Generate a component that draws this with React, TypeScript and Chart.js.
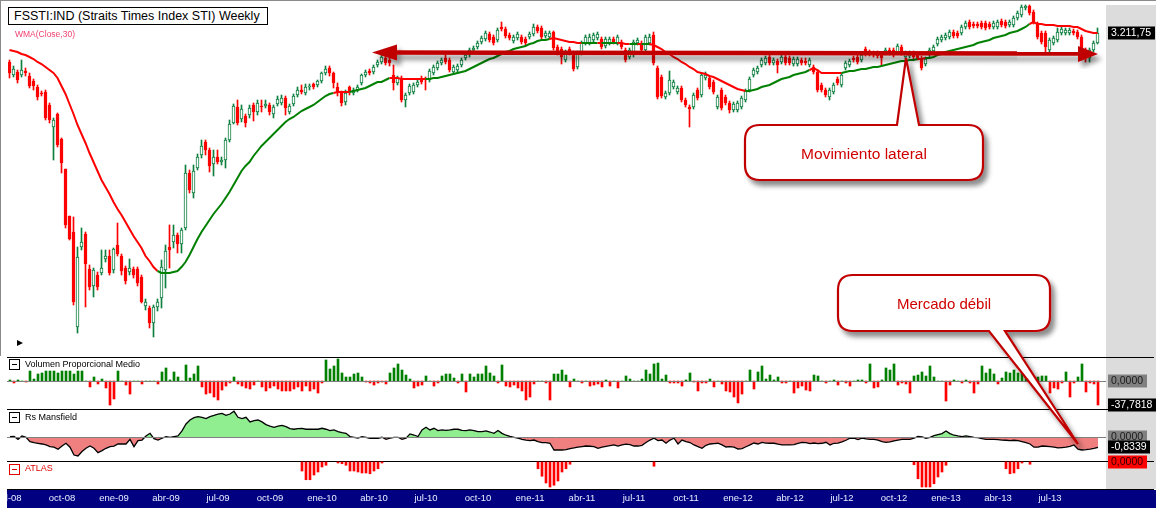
import React, { useEffect, useRef } from "react";
import { Chart, registerables } from "chart.js";
Chart.register(...registerables);

const FONT = "'Liberation Sans', Arial, sans-serif";
Chart.defaults.font.family = FONT;

// ---- weekly OHLC (FSSTI, jul-08 .. sep-13) ----
const openP = [
  3038,2960,2978,2960,2984,2954,2924,2888,2852,2858,
  2780,2648,2726,2576,2396,2114,2018,1448,1928,2006,
  1796,1694,1760,1772,1856,1874,1790,1940,1874,1802,
  1778,1796,1796,1748,1574,1562,1472,1568,1622,1790,
  1928,1958,2000,1946,2042,2372,2252,2402,2480,2558,
  2510,2426,2468,2438,2450,2570,2672,2768,2696,2714,
  2720,2780,2738,2774,2774,2780,2726,2786,2792,2822,
  2738,2786,2840,2870,2852,2888,2906,2900,2924,2972,
  3002,2972,2888,2852,2798,2888,2852,2870,2912,2960,
  2984,2978,3020,3038,3062,3050,2960,2912,2942,2810,
  2852,2858,2900,2942,2942,2930,2972,3002,3032,3062,
  3050,2978,2990,3020,3062,3080,3110,3128,3158,3176,
  3206,3188,3170,3248,3236,3200,3164,3182,3188,3176,
  3188,3206,3248,3242,3194,3188,3218,3128,3116,3050,
  3116,3092,3008,3092,3152,3152,3170,3182,3176,3134,
  3152,3176,3152,3158,3110,3068,3080,3152,3152,3110,
  3152,3200,3002,2948,2828,2852,2888,2858,2882,2810,
  2768,2768,2870,2840,2942,2942,2918,2768,2870,2828,
  2792,2750,2750,2768,2810,2870,2960,2978,3020,3032,
  3068,3032,3044,3038,3068,3062,3026,3026,3050,3044,
  3020,3008,2978,2900,2870,2828,2858,2936,2900,3002,
  3020,3062,3068,3050,3116,3098,3092,3092,3080,3092,
  3110,3110,3098,3128,3068,3074,3092,3080,3062,3026,
  3080,3104,3146,3170,3182,3188,3218,3212,3212,3248,
  3278,3266,3266,3272,3272,3266,3248,3248,3284,3278,
  3260,3260,3302,3320,3362,3374,3338,3266,3212,3212,
  3110,3152,3170,3212,3212,3212,3224,3218,3188,3110,
  3062,3110,3152,
];
const closeP = [
  2972,2996,2930,2990,2972,2894,2894,2828,2846,2702,
  2690,2690,2540,2432,2060,1976,1598,1868,1958,1826,
  1688,1790,1688,1802,1874,1772,1916,1886,1784,1724,
  1802,1760,1712,1598,1598,1472,1568,1598,1808,1904,
  1910,2000,1946,2030,2372,2270,2384,2468,2534,2510,
  2414,2468,2438,2450,2570,2666,2774,2672,2756,2672,
  2762,2738,2792,2768,2786,2738,2768,2816,2822,2762,
  2774,2834,2870,2858,2888,2894,2888,2924,2972,2996,
  2972,2912,2852,2792,2852,2858,2870,2888,2960,2978,
  2972,3008,3038,3068,3032,3032,2912,2942,2810,2840,
  2894,2900,2918,2918,2930,2984,3008,3032,3050,3038,
  2990,3008,3014,3050,3080,3110,3122,3152,3182,3212,
  3170,3152,3230,3236,3194,3182,3188,3206,3158,3152,
  3206,3248,3224,3188,3212,3212,3122,3098,3068,3092,
  3092,2996,3092,3152,3188,3188,3200,3206,3128,3176,
  3176,3158,3188,3128,3050,3110,3158,3170,3110,3188,
  3188,3032,2828,2834,2852,2930,2918,2882,2810,2780,
  2756,2840,2822,2960,2960,2888,2858,2828,2762,2792,
  2750,2786,2792,2822,2864,2936,2990,3002,3050,3062,
  3032,3050,3020,3068,3032,3032,3056,3056,3032,3032,
  3050,2978,2870,2870,2840,2870,2900,2912,2960,3032,
  3044,3050,3038,3080,3086,3086,3080,3074,3062,3110,
  3092,3080,3134,3092,3092,3092,3068,3062,3002,3056,
  3110,3128,3176,3188,3200,3218,3194,3194,3248,3272,
  3248,3254,3254,3248,3242,3248,3272,3278,3260,3254,
  3278,3302,3332,3368,3374,3332,3278,3188,3158,3128,
  3170,3182,3218,3236,3230,3230,3212,3188,3062,3062,
  3110,3152,3211.75,
];
const highP = [
  3050,3014,2990,3050,3002,2972,2936,2900,2864,2870,
  2792,2702,2732,2582,2396,2114,2108,1928,2042,2018,
  1820,1802,1778,1910,1910,1910,1922,2072,1886,1814,
  1856,1808,1808,1760,1616,1574,1580,1616,1850,1940,
  2060,2060,2012,2042,2420,2390,2420,2486,2570,2570,
  2522,2510,2510,2468,2582,2690,2786,2810,2780,2726,
  2780,2792,2810,2810,2810,2792,2780,2834,2840,2834,
  2786,2846,2888,2900,2906,2906,2912,2930,2978,3014,
  3014,2978,2912,2864,2870,2894,2882,2900,2966,2990,
  2996,3020,3050,3080,3074,3062,3020,2954,2954,2852,
  2906,2912,2930,2954,2948,2996,3020,3044,3062,3086,
  3062,3020,3026,3062,3092,3122,3134,3164,3194,3224,
  3218,3200,3242,3278,3248,3212,3200,3218,3200,3188,
  3218,3266,3260,3254,3224,3224,3224,3140,3128,3110,
  3128,3104,3104,3164,3200,3206,3212,3218,3188,3188,
  3188,3188,3200,3170,3122,3122,3170,3182,3164,3200,
  3206,3218,3014,2960,2864,2984,2930,2894,2894,2822,
  2780,2852,2882,2972,2978,2954,2930,2840,2882,2840,
  2804,2798,2804,2834,2876,2948,3002,3014,3062,3074,
  3080,3062,3056,3080,3080,3074,3068,3068,3062,3062,
  3062,3020,2990,2912,2882,2882,2912,2948,2972,3044,
  3056,3074,3080,3092,3128,3110,3104,3104,3092,3122,
  3122,3122,3146,3140,3104,3104,3104,3092,3074,3068,
  3122,3140,3188,3200,3212,3230,3230,3224,3260,3284,
  3290,3278,3278,3284,3284,3278,3284,3290,3296,3290,
  3290,3314,3344,3380,3380,3380,3350,3278,3224,3224,
  3182,3194,3242,3248,3242,3242,3236,3230,3200,3122,
  3122,3164,3242,
];
const lowP = [
  2942,2948,2912,2948,2954,2882,2870,2810,2834,2690,
  2672,2450,2528,2372,2042,1970,1580,1412,1910,1568,
  1670,1628,1670,1760,1838,1760,1772,1874,1760,1706,
  1760,1742,1694,1592,1550,1442,1388,1544,1562,1682,
  1802,1922,1892,1892,2030,2252,2222,2390,2462,2480,
  2378,2354,2426,2420,2402,2558,2666,2660,2678,2648,
  2702,2684,2720,2738,2762,2720,2702,2774,2780,2720,
  2726,2774,2828,2846,2840,2870,2876,2888,2912,2960,
  2954,2882,2834,2774,2780,2840,2840,2858,2900,2948,
  2960,2966,3008,3026,3020,3014,2870,2900,2798,2768,
  2840,2846,2888,2906,2870,2918,2960,2990,3020,3026,
  2978,2966,2978,3008,3050,3068,3098,3116,3146,3164,
  3158,3140,3158,3224,3182,3170,3152,3170,3146,3140,
  3176,3194,3212,3176,3182,3176,3110,3080,3026,3038,
  3080,2984,2996,3080,3140,3140,3158,3170,3116,3122,
  3140,3146,3140,3116,3038,3056,3068,3140,3098,3098,
  3140,3020,2816,2822,2816,2840,2876,2846,2798,2768,
  2648,2756,2810,2828,2930,2876,2846,2756,2750,2780,
  2732,2738,2738,2756,2798,2858,2948,2966,3008,3020,
  3020,3020,2972,3026,3020,3020,3014,3014,3020,3020,
  3008,2966,2858,2858,2828,2810,2846,2900,2888,2990,
  3008,3038,3026,3038,3074,3074,3068,3062,3020,3080,
  3080,3068,3086,3080,3056,3062,3056,3050,2990,3014,
  3068,3092,3134,3158,3170,3176,3182,3182,3200,3236,
  3236,3242,3242,3236,3230,3236,3236,3236,3248,3242,
  3248,3248,3290,3308,3350,3320,3266,3176,3146,3098,
  3098,3140,3158,3200,3200,3200,3200,3176,3050,3038,
  3038,3098,3146,
];
// WMA(Close,30) as plotted
const wma30 = [
  3110,3104,3098,3086,3080,3068,3056,3038,3026,3008,
  2990,2972,2942,2894,2846,2786,2726,2660,2606,2552,
  2492,2438,2384,2330,2288,2246,2198,2156,2120,2078,
  2036,1994,1958,1922,1874,1844,1808,1784,1772,1772,
  1772,1778,1784,1808,1838,1880,1928,1976,2018,2054,
  2090,2126,2156,2186,2222,2258,2300,2342,2384,2414,
  2438,2474,2504,2534,2558,2582,2606,2630,2654,2678,
  2696,2708,2726,2744,2756,2768,2780,2798,2816,2834,
  2846,2852,2858,2858,2858,2858,2864,2870,2876,2882,
  2894,2906,2918,2918,2930,2942,2942,2942,2936,2936,
  2936,2936,2936,2936,2936,2936,2942,2942,2948,2954,
  2960,2966,2972,2978,2984,2996,3008,3020,3032,3044,
  3056,3062,3074,3086,3098,3104,3116,3122,3128,3134,
  3146,3152,3164,3170,3170,3176,3182,3176,3170,3164,
  3158,3158,3152,3152,3152,3152,3152,3152,3152,3152,
  3152,3152,3152,3152,3146,3146,3146,3146,3146,3146,
  3146,3140,3128,3116,3098,3086,3068,3056,3038,3026,
  3008,2996,2978,2972,2966,2954,2948,2936,2924,2912,
  2900,2888,2876,2870,2864,2864,2870,2876,2888,2894,
  2900,2912,2924,2936,2942,2948,2960,2966,2972,2978,
  2990,3002,2990,2972,2972,2972,2972,2972,2972,2978,
  2984,2984,2990,2996,2996,3002,3008,3008,3014,3020,
  3026,3032,3038,3044,3044,3050,3050,3056,3056,3062,
  3062,3068,3080,3086,3098,3104,3110,3116,3122,3128,
  3134,3140,3152,3158,3164,3170,3182,3188,3194,3200,
  3212,3218,3224,3236,3248,3266,3278,3266,3266,3260,
  3260,3260,3254,3254,3254,3254,3248,3248,3236,3224,
  3218,3212,3212,
];
// Volumen Proporcional Medio
const volumen = [
  1.6,-3.1,1.6,0,-1.6,15.7,3.1,11.0,12.6,15.7,
  15.7,15.7,12.6,15.7,15.7,15.7,11.0,15.7,15.7,0,
  -9.4,6.3,-4.7,3.1,-11.0,-37.8,-28.3,15.7,0,-6.3,
  -20.5,0,0,-4.7,0,0,0,-4.7,14.2,20.5,
  1.6,14.2,6.3,0,25.2,4.7,11.0,23.6,-9.4,-20.5,
  -18.9,-25.2,-29.9,-14.2,-7.9,-3.1,6.3,-4.7,-7.9,-11.0,
  -12.6,-6.3,0,-9.4,-15.7,-11.0,-7.9,-12.6,-15.7,-15.7,
  -15.7,-12.6,-9.4,-15.7,-7.9,-15.7,-12.6,-18.9,-3.1,33.1,
  18.9,23.6,34.6,12.6,6.3,6.3,11.0,12.6,6.3,-1.6,
  -3.1,-6.3,-3.1,-1.6,-4.7,12.6,20.5,26.8,17.3,9.4,
  3.1,-11.0,-7.9,-6.3,7.9,0,-7.9,-3.1,7.9,11.0,
  11.0,4.7,-3.1,11.0,-17.3,11.0,6.3,11.0,11.0,23.6,
  12.6,7.9,-3.1,25.2,-7.9,-9.4,-6.3,-11.0,-15.7,-29.9,
  -25.2,-4.7,0,0,-3.1,-29.9,11.0,11.0,17.3,9.4,
  -9.4,3.1,0,-3.1,0,-7.9,-6.3,-4.7,-9.4,1.6,
  -7.9,0,-11.0,0,7.9,3.1,0,0,3.1,17.3,
  11.0,26.8,28.3,3.1,9.4,-3.1,-3.1,-3.1,-7.9,1.6,
  12.6,-1.6,-15.7,-3.1,-3.1,3.1,-9.4,0,-4.7,-15.7,
  -17.3,-25.2,-34.6,-20.5,0,17.3,-12.6,14.2,23.6,3.1,
  9.4,1.6,6.3,-3.1,-3.1,0,-18.9,-11.0,-7.9,-14.2,
  -15.7,9.4,7.9,0,-3.1,0,1.6,-6.3,0,-3.1,
  -7.9,0,1.6,1.6,-3.1,26.8,-11.0,-9.4,1.6,20.5,
  17.3,26.8,-6.3,-3.1,-4.7,-18.9,7.9,9.4,14.2,7.9,
  23.6,6.3,0,0,-31.5,-6.3,1.6,0,-3.1,1.6,
  -3.1,-18.9,-4.7,23.6,12.6,18.9,11.0,-4.7,4.7,14.2,
  12.6,17.3,12.6,14.2,11.0,14.2,-3.1,6.3,7.9,7.9,
  -18.9,-11.0,-12.6,-3.1,14.2,-25.2,-3.1,6.3,26.8,-17.3,
  -3.1,-4.7,-37.7818,
];
// Rs Mansfield
const rsMansfield = [
  0.06,0.08,-0.17,0.11,0,-0.36,-0.44,-0.50,-0.56,-0.64,
  -0.78,-0.83,-1.00,-0.73,-0.50,-0.83,-1.48,-1.56,-1.19,-0.92,
  -0.73,-0.92,-1.28,-1.11,-0.92,-0.78,-0.73,-0.56,-0.56,-0.56,
  -0.17,-0.78,-0.28,-0.23,0.11,0.33,-0.11,-0.23,-0.08,0.06,
  0,0.06,0.11,0.53,1.11,1.44,1.64,1.73,1.67,1.56,
  1.73,1.83,1.94,2.00,1.83,1.94,2.17,1.67,1.56,1.67,
  1.28,1.39,1.44,1.28,1.06,0.94,0.83,0.94,1.00,0.89,
  0.73,0.67,0.73,0.75,0.67,0.67,0.67,0.67,0.75,0.67,
  0.56,0.61,0.48,0.39,0.33,0.06,0,-0.06,0.06,0,
  -0.08,-0.08,-0.08,0,-0.17,-0.08,0,0,-0.17,-0.08,
  0.28,0.19,0.06,0.61,0.83,0.61,0.75,0.56,0.61,0.58,
  0.61,0.67,0.67,0.58,0.56,0.61,0.56,0.48,0.48,0.53,
  0.44,0.33,0.56,0.33,0.17,0.08,0,-0.08,-0.17,-0.23,
  -0.28,-0.23,-0.36,-0.44,-0.44,-0.50,-1.06,-1.06,-1.06,-1.03,
  -0.94,-0.89,-0.83,-0.78,-0.73,-0.75,-0.78,-0.92,-0.83,-0.75,
  -0.69,-0.64,-0.73,-0.64,-0.58,-0.61,-0.73,-0.73,-0.67,-0.44,
  -0.23,-0.08,-0.28,-0.23,-0.50,-0.23,-0.08,-0.56,-0.23,-0.36,
  -0.44,-0.64,-0.78,-0.92,-0.67,-0.56,-0.53,-0.50,-0.64,-0.81,
  -0.78,-0.83,-0.98,-0.94,-0.79,-0.64,-0.48,-0.56,-0.42,-0.48,
  -0.50,-0.50,-0.58,-0.64,-0.64,-0.64,-0.61,-0.50,-0.42,-0.44,
  -0.53,-0.48,-0.53,-0.50,-0.42,-0.64,-0.50,-0.48,-0.39,-0.25,
  -0.08,-0.08,-0.19,-0.08,-0.14,-0.17,-0.17,-0.23,-0.36,-0.42,
  -0.39,-0.31,-0.23,-0.17,-0.17,-0.17,-0.08,0.08,0.03,-0.08,
  0,0.14,0.23,0.31,0.53,0.31,0.17,0.11,0.06,0.11,
  0.06,0,-0.03,-0.11,-0.17,-0.17,-0.17,-0.19,-0.23,-0.25,
  -0.28,-0.25,-0.28,-0.36,-0.44,-0.56,-0.83,-0.83,-0.73,-0.75,
  -0.78,-0.83,-0.89,-0.86,-0.83,-0.75,-0.64,-1.00,-1.06,-1.03,
  -0.98,-0.92,-0.8339,
];
// ATLAS (only weeks with a signal)
const atlasWeek = [73,74,75,76,77,78,79,82,83,84,85,86,87,88,89,90,91,92,93,132,133,134,135,136,137,138,139,140,161,226,227,228,229,230,231,232,233,234,249,250,251,252,253,255];
const atlasValue = [-36,-71,-71,-52,-40,-20,-13,-4,-7,-13,-36,-36,-40,-44,-44,-47,-36,-27,-4,-27,-57,-84,-100,-93,-76,-40,-27,-9,-17,-11,-67,-100,-100,-100,-87,-60,-40,-13,-27,-47,-44,-27,-4,-9];
// x-axis ticks (week index of each quarter start)
const tickWeek = [0,13,26,39,52,65,78,91,104,117,130,143,156,169,182,195,208,221,234,247,260];
const tickLabel = ["jul-08","oct-08","ene-09","abr-09","jul-09","oct-09","ene-10","abr-10","jul-10","oct-10","ene-11","abr-11","jul-11","oct-11","ene-12","abr-12","jul-12","oct-12","ene-13","abr-13","jul-13"];

const N = closeP.length;
const weeks = closeP.map((_, i) => i);
const UP = "#0d7f3f";
const DOWN = "#ff0000";

function fmtEs(v: number, d: number) {
  const neg = v < 0;
  const s = Math.abs(v).toFixed(d);
  const [ip, fp] = s.split(".");
  const grp = ip.replace(/\B(?=(\d{3})+(?!\d))/g, ".");
  return (neg ? "-" : "") + grp + (fp ? "," + fp : "");
}

type Lbl = { value: number; text: string; bg: string; fg: string };
function labelPlugin(id: string, items: Lbl[], zero: boolean) {
  return {
    id,
    afterDatasetsDraw(chart: any) {
      const { ctx, chartArea } = chart;
      const ys = chart.scales.y;
      if (zero) {
        const z = Math.round(ys.getPixelForValue(0)) + 0.5;
        ctx.save();
        ctx.strokeStyle = "#808080";
        ctx.lineWidth = 1;
        ctx.beginPath();
        ctx.moveTo(0, z);
        ctx.lineTo(chartArea.right, z);
        ctx.stroke();
        ctx.restore();
      }
    },
    afterDraw(chart: any) {
      const { ctx, chartArea } = chart;
      const ys = chart.scales.y;
      const x0 = chartArea.right + 2;
      ctx.save();
      ctx.font = `10.5px ${FONT}`;
      ctx.textBaseline = "middle";
      for (const it of items) {
        const py = Math.round(ys.getPixelForValue(it.value));
        const w = Math.ceil(ctx.measureText(it.text).width) + 6;
        ctx.fillStyle = it.bg;
        ctx.fillRect(x0, py - 6.5, w, 13);
        ctx.fillStyle = it.fg;
        ctx.fillText(it.text, x0 + 3, py + 0.5);
      }
      ctx.restore();
    },
  };
}

function base(ymin: number, ymax: number, padding: any, xmin: number, xmax: number) {
  return {
    responsive: false,
    animation: false as const,
    events: [] as any[],
    layout: { padding },
    plugins: { legend: { display: false }, tooltip: { enabled: false } },
    scales: {
      x: { type: "linear" as const, min: xmin, max: xmax, offset: false, display: false },
      y: { type: "linear" as const, min: ymin, max: ymax, display: false },
    },
  };
}

export default function App() {
  const mainRef = useRef<HTMLCanvasElement>(null);
  const volRef = useRef<HTMLCanvasElement>(null);
  const rsRef = useRef<HTMLCanvasElement>(null);
  const atRef = useRef<HTMLCanvasElement>(null);

  useEffect(() => {
    const up = (i: number) => closeP[i] > openP[i];
    const last = N - 1;

    const main = new Chart(mainRef.current!, {
      type: "bar",
      data: {
        datasets: [
          {
            type: "line",
            data: weeks.map((i) => ({ x: i, y: wma30[i] })),
            borderColor: DOWN,
            borderWidth: 2,
            pointRadius: 0,
            tension: 0,
            segment: {
              borderColor: (c: any) => (closeP[c.p1DataIndex] > wma30[c.p1DataIndex] ? "#008000" : "#ff0000"),
            },
            order: 0,
          } as any,
          {
            type: "bar",
            data: weeks.map((i) => ({ x: i, y: [openP[i], closeP[i]] })),
            backgroundColor: weeks.map((i) => (up(i) ? "#ffffff" : DOWN)),
            borderColor: weeks.map((i) => (up(i) ? UP : DOWN)),
            borderWidth: 1,
            borderSkipped: false,
            barThickness: 3,
            grouped: false,
            order: 1,
          } as any,
          {
            type: "bar",
            data: weeks.map((i) => ({ x: i, y: [lowP[i], highP[i]] })),
            backgroundColor: weeks.map((i) => (up(i) ? UP : DOWN)),
            borderWidth: 0,
            barThickness: 1,
            grouped: false,
            order: 2,
          } as any,
        ],
      },
      options: base(1268, 3410, { left: 1, right: 50, top: 0, bottom: 0 }, -0.375, 274.125) as any,
      plugins: [labelPlugin("mainlbl", [{ value: closeP[last], text: fmtEs(closeP[last], 2), bg: "#000000", fg: "#ffffff" }], false)],
    });

    const vol = new Chart(volRef.current!, {
      type: "bar",
      data: {
        datasets: [
          {
            data: weeks.map((i) => ({ x: i, y: volumen[i] })),
            backgroundColor: weeks.map((i) => (volumen[i] >= 0 ? "#008000" : "#ff0000")),
            barThickness: 2,
            grouped: false,
          } as any,
        ],
      },
      options: base(-44.1, 37.8, { left: 1, right: 50, top: 7, bottom: 7 }, -0.5, 274) as any,
      plugins: [
        labelPlugin("vollbl", [
          { value: 0, text: fmtEs(0, 4), bg: "#808080", fg: "#1a1a1a" },
          { value: volumen[last], text: fmtEs(volumen[last], 4), bg: "#000000", fg: "#ffffff" },
        ], true),
      ],
    });

    const rs = new Chart(rsRef.current!, {
      type: "line",
      data: {
        datasets: [
          {
            data: weeks.map((i) => ({ x: i, y: rsMansfield[i] })),
            borderColor: "#000000",
            borderWidth: 1.3,
            pointRadius: 0,
            tension: 0,
            fill: { target: { value: 0 }, above: "#90ee90", below: "#f08080" },
          } as any,
        ],
      },
      options: base(-1.98, 2.36, { left: 1, right: 50, top: 0, bottom: 0 }, -0.5, 274) as any,
      plugins: [
        labelPlugin("rslbl", [
          { value: 0, text: fmtEs(0, 4), bg: "#808080", fg: "#1a1a1a" },
          { value: rsMansfield[last], text: fmtEs(rsMansfield[last], 4), bg: "#000000", fg: "#ffffff" },
        ], true),
      ],
    });

    const atOpts: any = base(-108, 4, { left: 1, right: 50, top: 9, bottom: 0 }, -0.5, 274);
    atOpts.scales.x = {
      type: "linear",
      min: -0.5,
      max: 274,
      offset: false,
      position: "bottom",
      display: true,
      grid: { display: false, drawTicks: false, offset: false },
      border: { display: false },
      afterBuildTicks: (s: any) => {
        s.ticks = tickWeek.map((v) => ({ value: v }));
      },
      afterFit: (s: any) => {
        s.height = 19;
        s.paddingLeft = 0;
        s.paddingRight = 0;
      },
      ticks: {
        autoSkip: false,
        maxRotation: 0,
        minRotation: 0,
        padding: 4,
        color: "#e8eeff",
        font: { family: FONT, size: 9.5 },
        callback: (_v: any, idx: number) => tickLabel[idx],
      },
    };
    const at = new Chart(atRef.current!, {
      type: "bar",
      data: {
        datasets: [
          {
            data: atlasWeek.map((w, j) => ({ x: w, y: atlasValue[j] })),
            backgroundColor: "#ff0000",
            barThickness: 2,
            grouped: false,
          } as any,
        ],
      },
      options: atOpts,
      plugins: [labelPlugin("atlbl", [{ value: 0, text: fmtEs(0, 4), bg: "#ff0000", fg: "#2a0000" }], false)],
    });

    return () => {
      main.destroy();
      vol.destroy();
      rs.destroy();
      at.destroy();
    };
  }, []);

  const abs = (l: number, t: number, w: number, h: number, extra: any = {}) => ({
    position: "absolute" as const, left: l, top: t, width: w, height: h, ...extra,
  });
  const sep = (t: number) => <div style={abs(7, t, 1147, 1, { background: "#000" })} />;
  const icon = (t: number, color: string) => (
    <div style={abs(9, t, 9, 9, { border: `1px solid ${color}`, background: "#fff", zIndex: 6 })}>
      <div style={abs(2, 4, 5, 1, { background: color })} />
    </div>
  );
  const panelText = (t: number, text: string, color: string) => (
    <div style={abs(25, t, 300, 12, { font: `9px ${FONT}`, lineHeight: "12px", color, zIndex: 6, whiteSpace: "nowrap" })}>{text}</div>
  );

  return (
    <div style={{ position: "fixed", left: 0, top: 0, width: 1156, height: 508, background: "#fff", overflow: "hidden", fontFamily: FONT }}>
      {/* frame & panels background */}
      <div style={abs(0, 0, 1156, 1, { background: "#8a8a8a" })} />
      <div style={abs(0, 0, 1, 356, { background: "#8a8a8a" })} />
      <div style={abs(1106, 5, 50, 484, { background: "#dcdcdc" })} />
      {sep(357)}
      {sep(409)}
      {sep(461)}
      {sep(489)}
      <div style={abs(7, 490, 1149, 18, { background: "#000080" })} />

      <canvas ref={mainRef} width={1149} height={357} style={abs(7, 0, 1149, 357, { zIndex: 2 })} />
      <canvas ref={volRef} width={1149} height={66} style={abs(7, 350, 1149, 66, { zIndex: 4 })} />
      <canvas ref={rsRef} width={1149} height={52} style={abs(7, 409, 1149, 52, { zIndex: 3 })} />
      <canvas ref={atRef} width={1149} height={56} style={abs(7, 452, 1149, 56, { zIndex: 2 })} />

      {/* titles */}
      <div style={abs(8, 7, 258, 16, { border: "1px solid #000", background: "#fff", zIndex: 6, font: `12.5px ${FONT}`, lineHeight: "16px", paddingLeft: 0, whiteSpace: "nowrap" })}>
        <span style={{ marginLeft: 5 }}>FSSTI:IND (Straits Times Index STI) Weekly</span>
      </div>
      <div style={abs(15, 28, 120, 12, { font: `8.5px ${FONT}`, lineHeight: "12px", color: "#f04070", zIndex: 6 })}>WMA(Close,30)</div>
      {icon(359, "#000")}
      {panelText(358, "Volumen Proporcional Medio", "#000")}
      {icon(412, "#000")}
      {panelText(411, "Rs Mansfield", "#000")}
      {icon(464, "#e00000")}
      {panelText(462, "ATLAS", "#e00000")}

      {/* annotations */}
      <svg width={1156} height={508} style={abs(0, 0, 1156, 508, { zIndex: 8, pointerEvents: "none" })}>
        <defs>
          <filter id="sh" x="-20%" y="-20%" width="140%" height="160%">
            <feDropShadow dx="4" dy="5" stdDeviation="2.5" floodColor="#000" floodOpacity="0.45" />
          </filter>
        </defs>
        <polygon points="17,340 23,343 17,346" fill="#000" />
        <g filter="url(#sh)">
          <line x1={390} y1={52.5} x2={1082} y2={53.5} stroke="#c00000" strokeWidth={4.5} />
          <polygon points="372,52.5 397,44.5 397,60.5" fill="#c00000" />
          <polygon points="1098,54 1078,46 1078,62" fill="#c00000" />
        </g>
        <path
          d="M 760 125 L 897 125 L 906 58 L 919 125 L 968 125 Q 983 125 983 140 L 983 165 Q 983 180 968 180 L 760 180 Q 745 180 745 165 L 745 140 Q 745 125 760 125 Z"
          fill="#fff" stroke="#c00000" strokeWidth={2.2} filter="url(#sh)"
        />
        <text x={864} y={153} textAnchor="middle" dominantBaseline="central" fill="#d00000" style={{ font: `15.5px ${FONT}` }}>
          Movimiento lateral
        </text>
        <path
          d="M 853 275 L 1035 275 Q 1050 275 1050 290 L 1050 316 Q 1050 331 1035 331 L 1005 331 L 1078 444 L 989 331 L 853 331 Q 838 331 838 316 L 838 290 Q 838 275 853 275 Z"
          fill="#fff" stroke="#c00000" strokeWidth={2.2} filter="url(#sh)"
        />
        <text x={944} y={303} textAnchor="middle" dominantBaseline="central" fill="#d00000" style={{ font: `15px ${FONT}` }}>
          Mercado débil
        </text>
      </svg>
    </div>
  );
}
